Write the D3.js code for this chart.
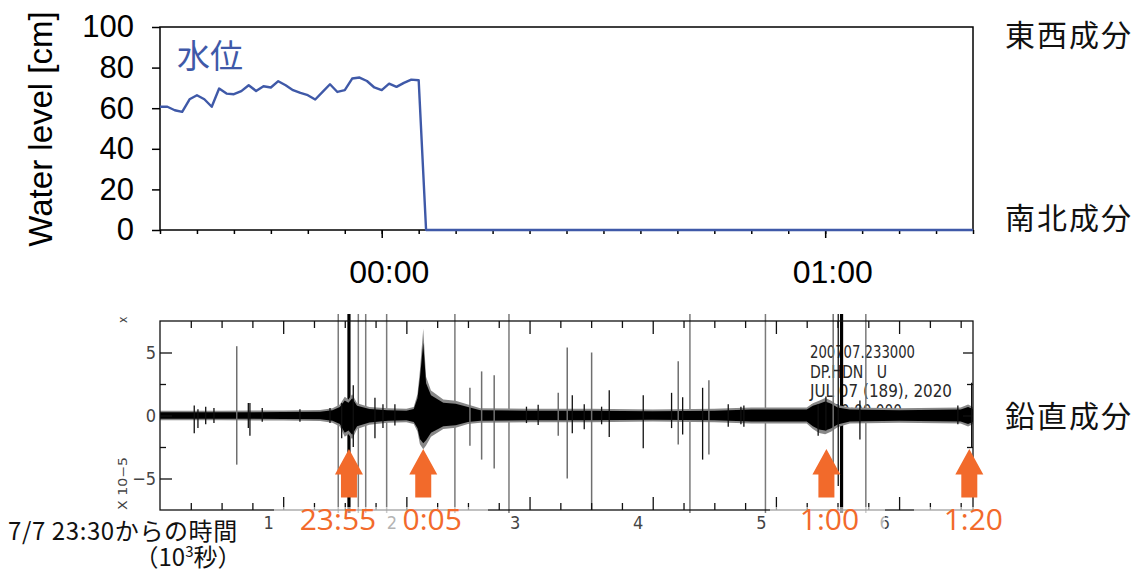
<!DOCTYPE html>
<html lang="ja">
<head>
<meta charset="UTF-8" />
<title>水位と地震波形</title>
<script src="https://d3js.org/d3.v7.min.js"></script>
<style>
  body { margin: 0; background: #fff; }
  svg { display: block; }
  .pre { white-space: pre; }
</style>
</head>
<body>
<div id="chart"></div>
<script>
// ---------- water level (minutes after 7/7 23:30) ----------
const levelMinutes = [0, 1, 2, 3, 4, 5, 6, 7, 8, 9, 10, 11, 12, 13, 14, 15, 16, 17,
  18, 19, 20, 21, 22, 23, 24, 25, 26, 27, 28, 29, 30, 31, 32, 33, 34, 35, 36, 110];
const levelValues = [60.7, 60.7, 59, 58.2, 64.4, 66.4, 64.4, 60.7, 69.7, 67.2, 66.9, 68.4,
  71.3, 68.5, 70.8, 70.2, 73.3, 71.3, 68.9, 67.5, 66.4, 64.3, 68, 71.8, 68, 68.9, 74.6,
  75.1, 73.4, 70.2, 68.9, 72.1, 70.5, 72.5, 74.1, 73.8, 0, 0];
const levelTicks = [0, 20, 40, 60, 80, 100];
const hourTickMinutes = [30, 90];
const hourTickLabels = ["00:00", "01:00"];

// ---------- seismogram (10^3 s after 23:30, amplitude x10^-5) ----------
const envT    = [0, 0.5, 1.0, 1.3, 1.4, 1.46, 1.5, 1.53, 1.56, 1.6, 1.7, 1.85, 2.0, 2.06, 2.09, 2.11, 2.137, 2.16, 2.2, 2.3, 2.4, 2.5, 2.6, 3.0, 3.5, 4.0, 4.5, 4.8, 5.0, 5.25, 5.3, 5.35, 5.4, 5.45, 5.5, 5.6, 6.0, 6.5, 6.56, 6.6];
const envUp   = [0.3, 0.3, 0.32, 0.35, 0.5, 0.8, 1.4, 1.2, 1.6, 0.9, 0.6, 0.5, 0.45, 0.6, 1.6, 3.5, 6.8, 3.0, 1.9, 1.2, 1.1, 0.8, 0.5, 0.45, 0.45, 0.4, 0.45, 0.55, 0.55, 0.55, 0.9, 1.1, 1.3, 1.1, 0.75, 0.55, 0.5, 0.55, 0.8, 0.6];
const envDown = [0.3, 0.3, 0.32, 0.35, 0.5, 0.8, 1.6, 1.4, 1.8, 1.0, 0.65, 0.5, 0.45, 0.6, 1.2, 2.2, 2.6, 2.3, 1.6, 1.0, 0.9, 0.6, 0.5, 0.45, 0.45, 0.4, 0.45, 0.55, 0.55, 0.55, 1.0, 1.3, 1.4, 1.2, 0.85, 0.55, 0.5, 0.55, 0.8, 0.6];

const spikeT    = [0.278, 0.308, 0.371, 0.438, 0.623, 0.717, 0.730, 0.83, 1.136, 1.38, 1.475, 1.569, 1.745, 1.81, 1.907, 2.516, 2.611, 2.713, 2.975, 3.07, 3.233, 3.306, 3.347, 3.444, 3.504, 3.585, 3.647, 3.923, 4.153, 4.207, 4.243, 4.405, 4.456, 4.613, 4.716, 4.74, 5.343, 5.406, 5.465, 5.506, 5.682, 6.477, 6.589];
const spikeUp   = [0.8, 0.5, 0.7, 0.6, 5.5, 1.0, 1.0, 0.6, 0.5, 0.6, 1.0, 2.4, 1.4, 0.9, 0.9, 2.2, 3.5, 3.2, 0.7, 0.85, 1.8, 5.4, 1.6, 0.9, 5.0, 0.7, 2.0, 1.6, 1.8, 4.3, 1.45, 2.2, 2.8, 0.9, 0.7, 0.8, 0.9, 1.5, 7.5, 7.5, 1.2, 0.8, 2.6];
const spikeDown = [1.4, 1.0, 0.7, 0.6, 3.9, 1.0, 1.6, 0.5, 0.5, 0.6, 1.8, 2.5, 1.8, 1.0, 0.8, 2.4, 3.5, 4.2, 0.6, 0.75, 1.6, 5.0, 1.4, 1.1, 7.5, 0.7, 1.7, 2.6, 1.0, 2.3, 1.5, 3.5, 3.1, 0.9, 0.7, 0.9, 1.6, 1.2, 4.2, 5.6, 1.9, 0.7, 2.5];
const spikeDark = [1, 1, 1, 1, 0, 1, 1, 1, 1, 1, 1, 1, 1, 1, 1, 0, 0, 0, 1, 1, 0, 0, 1, 1, 0, 1, 1, 1, 1, 0, 1, 1, 0, 1, 1, 1, 1, 1, 0, 1, 1, 1, 1];

const fullT    = [1.447, 1.534, 1.61, 1.67, 1.84, 2.394, 2.833, 4.302, 4.915, 5.533, 5.73];
const fullDark = [0, 1, 0, 0, 0, 0, 0, 0, 0, 1, 0];

const seisYTicks = [-5, 0, 5];
const seisYMinor = [-2.5, 2.5];
const seisXTicks = [1, 2, 3, 4, 5, 6];
const seisHeader = ["200707.233000", "DP.HDN   U", "JUL 07 (189), 2020", "23:30:00.000"];

const arrowT = [1.534, 2.137, 5.41, 6.57];
const arrowLabels = ["23:55", "0:05", "1:00", "1:20"];

const componentLabels = ["東西成分", "南北成分", "鉛直成分"];

// ---------- layout ----------
const W = 1141, H = 574;
const L = 160, R = 973;
const blue = "#3f59a8", orange = "#f26a2b";
const numFont = "'Liberation Sans', Arial, sans-serif";
const jpFont = "'Noto Sans CJK JP', 'Noto Sans', sans-serif";
const narrowFont = "'Liberation Sans Narrow', 'DejaVu Sans Condensed', sans-serif";

const svg = d3.select("#chart").append("svg")
  .attr("width", W).attr("height", H)
  .style("background", "#fff");

// ---------- top panel ----------
const x = d3.scaleLinear().domain([0, 110]).range([L, R]);
const y = d3.scaleLinear().domain([0, 100]).range([230, 27]);

const levelPanel = svg.append("g");

levelPanel.append("g")
  .attr("transform", `translate(${L},0)`)
  .call(d3.axisLeft(y).tickValues(levelTicks).tickSize(8).tickPadding(18))
  .call(g => g.select(".domain").remove())
  .call(g => g.selectAll("line").attr("stroke", "#000").attr("stroke-width", 1.5))
  .call(g => g.selectAll("text").attr("font-family", numFont).attr("font-size", 31).attr("fill", "#000"));

levelPanel.append("g")
  .attr("transform", "translate(0,230)")
  .call(d3.axisBottom(x).tickValues(d3.range(0, 111, 5)).tickSize(4).tickFormat(""))
  .call(g => g.select(".domain").remove())
  .call(g => g.selectAll("line").attr("stroke", "#000").attr("stroke-width", 1.5));

levelPanel.append("g")
  .attr("transform", "translate(0,230)")
  .call(d3.axisBottom(x).tickValues(hourTickMinutes).tickSize(8).tickPadding(22)
    .tickFormat((d, i) => hourTickLabels[i]))
  .call(g => g.select(".domain").remove())
  .call(g => g.selectAll("line").attr("stroke", "#000").attr("stroke-width", 1.5))
  .call(g => g.selectAll("text").attr("dx", 7).attr("font-family", numFont).attr("font-size", 32).attr("fill", "#000"));

levelPanel.append("rect")
  .attr("x", L).attr("y", y(100))
  .attr("width", R - L).attr("height", y(0) - y(100))
  .attr("fill", "none").attr("stroke", "#000").attr("stroke-width", 1.5);

levelPanel.append("path")
  .datum(levelMinutes.map((m, i) => [m, levelValues[i]]))
  .attr("fill", "none").attr("stroke", blue).attr("stroke-width", 2.4)
  .attr("stroke-linejoin", "round")
  .attr("d", d3.line().x(d => x(d[0])).y(d => y(d[1])));

levelPanel.append("text")
  .attr("x", 177).attr("y", 68)
  .attr("font-family", jpFont).attr("font-size", 33).attr("fill", blue)
  .text("水位");

levelPanel.append("text")
  .attr("transform", "translate(52,129) rotate(-90)")
  .attr("text-anchor", "middle")
  .attr("font-family", numFont).attr("font-size", 33).attr("fill", "#000")
  .text("Water level [cm]");

// ---------- seismogram panel ----------
const xs = d3.scaleLinear().domain([0, 6.6]).range([L, R]);
const ys = d3.scaleLinear().domain([-7.5, 7.5]).range([510, 321]);
const seis = svg.append("g");

// header text (last line partly hidden under the trace)
const headerLen = [105, 77, 142, 92];
seis.append("clipPath").attr("id", "hdrClip")
  .append("rect").attr("x", 800).attr("y", 330).attr("width", 200).attr("height", 80);
seis.append("g").attr("clip-path", "url(#hdrClip)")
  .selectAll("text").data(seisHeader).join("text")
  .attr("class", "pre")
  .attr("x", 810).attr("y", (d, i) => 358 + i * 19.5)
  .attr("textLength", (d, i) => headerLen[i]).attr("lengthAdjust", "spacingAndGlyphs")
  .attr("font-family", narrowFont).attr("font-size", 18).attr("fill", "#2a2a2a")
  .text(d => d);

// full-height lines
seis.append("g").selectAll("line").data(fullT).join("line")
  .attr("x1", d => xs(d)).attr("x2", d => xs(d))
  .attr("y1", 314).attr("y2", 513)
  .attr("stroke", (d, i) => fullDark[i] ? "#000" : "#7a7a7a")
  .attr("stroke-width", (d, i) => fullDark[i] ? 3.2 : 1.5);

// noise envelope
const env = envT.map((t, i) => ({ t, up: envUp[i], down: envDown[i] }));
seis.append("path").datum(env)
  .attr("fill", "#888")
  .attr("d", d3.area().x(d => xs(d.t)).y0(d => ys(-d.down) + 1).y1(d => ys(d.up) - 1));
seis.append("path").datum(env)
  .attr("fill", "#000")
  .attr("d", d3.area().x(d => xs(d.t)).y0(d => ys(-d.down * 0.85)).y1(d => ys(d.up * 0.85)));

// spikes
seis.append("g").selectAll("line").data(spikeT).join("line")
  .attr("x1", d => xs(d)).attr("x2", d => xs(d))
  .attr("y1", (d, i) => spikeUp[i] >= 7.5 ? 314 : ys(spikeUp[i]))
  .attr("y2", (d, i) => ys(-spikeDown[i]))
  .attr("stroke", (d, i) => spikeDark[i] ? "#111" : "#6f6f6f")
  .attr("stroke-width", (d, i) => spikeDark[i] ? 1.3 : 1.5);

// axes: ticks point inward
const tickStyle = g => g.selectAll("line").attr("stroke", "#111").attr("stroke-width", 1.3);
const minorX = d3.range(0.25, 6.6, 0.25).filter(v => Math.abs(v - Math.round(v)) > 0.01);

seis.append("g").attr("transform", `translate(${L},0)`)
  .call(d3.axisLeft(ys).tickValues(seisYTicks).tickSizeInner(-12).tickSizeOuter(0).tickPadding(4)
    .tickFormat(d => d < 0 ? "\u2212" + Math.abs(d) : String(d)))
  .call(g => g.select(".domain").remove()).call(tickStyle)
  .call(g => g.selectAll("text").attr("font-family", narrowFont).attr("font-size", 18).attr("fill", "#444"));
seis.append("g").attr("transform", `translate(${L},0)`)
  .call(d3.axisLeft(ys).tickValues(seisYMinor).tickSizeInner(-6).tickSizeOuter(0).tickFormat(""))
  .call(g => g.select(".domain").remove()).call(tickStyle);
seis.append("g").attr("transform", `translate(${R},0)`)
  .call(d3.axisRight(ys).tickValues(seisYTicks).tickSizeInner(-10).tickSizeOuter(0).tickFormat(""))
  .call(g => g.select(".domain").remove()).call(tickStyle);
seis.append("g").attr("transform", `translate(${R},0)`)
  .call(d3.axisRight(ys).tickValues(seisYMinor).tickSizeInner(-6).tickSizeOuter(0).tickFormat(""))
  .call(g => g.select(".domain").remove()).call(tickStyle);

seis.append("g").attr("transform", "translate(0,510)")
  .call(d3.axisBottom(xs).tickValues(seisXTicks).tickSizeInner(-13).tickSizeOuter(0).tickPadding(6)
    .tickFormat(d3.format("d")))
  .call(g => g.select(".domain").remove()).call(tickStyle)
  .call(g => g.selectAll("text").attr("dx", -15).attr("font-family", narrowFont).attr("font-size", 18).attr("fill", "#444"));
seis.append("g").attr("transform", "translate(0,510)")
  .call(d3.axisBottom(xs).tickValues(minorX).tickSizeInner(-7).tickSizeOuter(0).tickFormat(""))
  .call(g => g.select(".domain").remove()).call(tickStyle);
seis.append("g").attr("transform", "translate(0,321)")
  .call(d3.axisTop(xs).tickValues(seisXTicks).tickSizeInner(-13).tickSizeOuter(0).tickFormat(""))
  .call(g => g.select(".domain").remove()).call(tickStyle);
seis.append("g").attr("transform", "translate(0,321)")
  .call(d3.axisTop(xs).tickValues(minorX).tickSizeInner(-7).tickSizeOuter(0).tickFormat(""))
  .call(g => g.select(".domain").remove()).call(tickStyle);

seis.append("rect")
  .attr("x", L).attr("y", 321).attr("width", R - L).attr("height", 189)
  .attr("fill", "none").attr("stroke", "#111").attr("stroke-width", 1.3);

seis.append("text")
  .attr("transform", "translate(127,510) rotate(-90)")
  .attr("font-family", narrowFont).attr("font-size", 12).attr("fill", "#444")
  .attr("textLength", 53).attr("lengthAdjust", "spacingAndGlyphs")
  .text("X 10\u22125");
seis.append("text")
  .attr("transform", "translate(127,323) rotate(-90)")
  .attr("font-family", narrowFont).attr("font-size", 12).attr("fill", "#444")
  .text("x");

// faded boxes behind the orange time labels
const boxes = svg.append("g").attr("fill", "#fff").attr("fill-opacity", 0.6);
boxes.append("rect").attr("x", 274).attr("y", 507).attr("width", 214).attr("height", 40);
boxes.append("rect").attr("x", 770).attr("y", 507).attr("width", 115).attr("height", 40);
boxes.append("rect").attr("x", 914).attr("y", 507).attr("width", 90).attr("height", 40);

// arrows
const arrow = svg.append("g");
const arrowPath = cx => `M${cx},449 L${cx + 14},474.5 L${cx + 8},474.5 L${cx + 8},497.5 ` +
  `L${cx - 8},497.5 L${cx - 8},474.5 L${cx - 14},474.5 Z`;
arrow.selectAll("path").data(arrowT).join("path")
  .attr("d", d => arrowPath(xs(d)))
  .attr("fill", orange);

const labelDx = [-11, 9, 3, 4];
arrow.selectAll("text").data(arrowLabels).join("text")
  .attr("x", (d, i) => xs(arrowT[i]) + labelDx[i]).attr("y", 530)
  .attr("text-anchor", "middle")
  .attr("font-family", "'Open Sans', 'Noto Sans', sans-serif").attr("font-size", 30)
  .attr("fill", orange)
  .text(d => d);

// ---------- component labels on the right ----------
const compY = [46, 229, 427];
svg.append("g").selectAll("text").data(componentLabels).join("text")
  .attr("x", 1005).attr("y", (d, i) => compY[i])
  .attr("font-family", jpFont).attr("font-size", 30).attr("letter-spacing", 2)
  .attr("fill", "#111")
  .text(d => d);

// ---------- bottom-left caption ----------
svg.append("text")
  .attr("x", 8).attr("y", 540)
  .attr("font-family", jpFont).attr("font-size", 24).attr("letter-spacing", 0.6)
  .attr("fill", "#111")
  .text("7/7 23:30からの時間");
const cap2 = svg.append("text")
  .attr("x", 188).attr("y", 566).attr("text-anchor", "middle")
  .attr("font-family", jpFont).attr("font-size", 24).attr("fill", "#111");
cap2.append("tspan").text("（10");
cap2.append("tspan").attr("dy", -9).attr("font-size", 15).text("3");
cap2.append("tspan").attr("dy", 9).text("秒）");
</script>
</body>
</html>
